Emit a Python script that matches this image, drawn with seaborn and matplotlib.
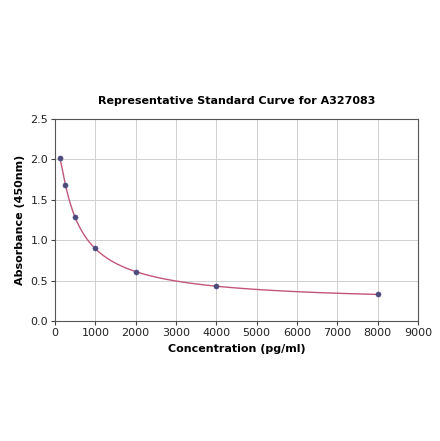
import numpy as np
import pandas as pd
import seaborn as sns
from matplotlib import pyplot as plt

concentration = [125, 250, 500, 1000, 2000, 4000, 8000]
absorbance = [2.02, 1.69, 1.29, 0.90, 0.61, 0.43, 0.33]

df = pd.DataFrame({"conc": concentration, "od": absorbance})

# smooth curve: cubic fit in log-log space
coef = np.polyfit(np.log(df["conc"]), np.log(df["od"]), 3)
xs = np.linspace(df["conc"].min(), df["conc"].max(), 400)
fit = pd.DataFrame({"conc": xs, "od": np.exp(np.polyval(coef, np.log(xs)))})

sns.set_style("whitegrid")
plt.rcParams["font.family"] = ["DejaVu Sans"]

fig = plt.figure(figsize=(4.4, 4.41), dpi=100)
ax = fig.add_axes([0.125, 0.272, 0.825, 0.458])

sns.lineplot(data=fit, x="conc", y="od", ax=ax, color="#c2567a", linewidth=1.0)
sns.scatterplot(data=df, x="conc", y="od", ax=ax, color="#4b4b7c", s=14,
                edgecolor="#4b4b7c", zorder=3)

ax.set_xlim(0, 9000)
ax.set_ylim(0, 2.5)
ax.set_xticks(range(0, 9001, 1000))
ax.set_yticks(np.arange(0, 2.51, 0.5))
ax.tick_params(labelsize=8, length=3, color="#444444", labelcolor="#222222",
               left=True, bottom=True, pad=2)
ax.grid(color="#d0d0d0", linewidth=0.7)
for s in ax.spines.values():
    s.set_color("#555555")
    s.set_linewidth(0.8)

ax.set_xlabel("Concentration (pg/ml)", fontsize=8, fontweight="bold",
              labelpad=4, color="black")
ax.set_ylabel("Absorbance (450nm)", fontsize=8, fontweight="bold",
              labelpad=4, color="black")
ax.set_title("Representative Standard Curve for A327083", fontsize=8,
             fontweight="bold", pad=11, color="black")

fig.savefig("out.png", dpi=100)
